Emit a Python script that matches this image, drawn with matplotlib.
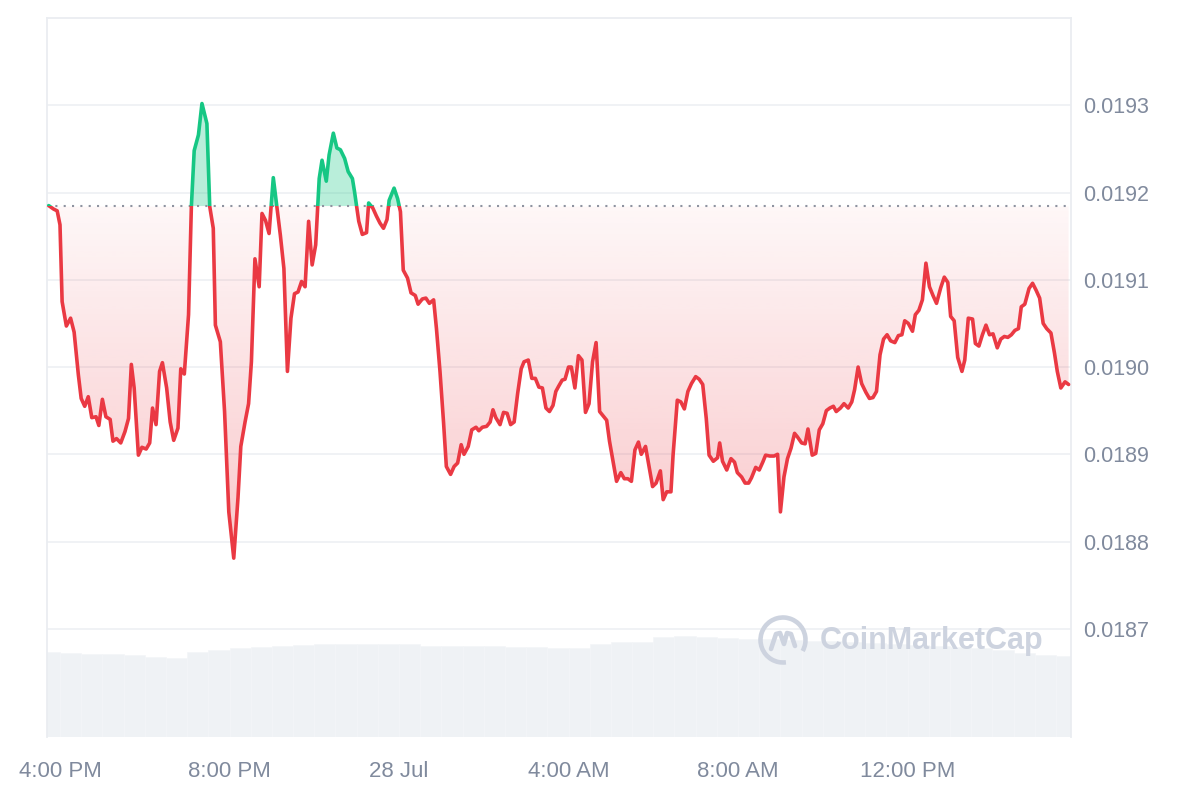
import numpy as np
import pandas as pd
import matplotlib
matplotlib.use("Agg")
import matplotlib.pyplot as plt
import matplotlib.dates as mdates
from matplotlib.patches import Polygon, Rectangle, Arc
from matplotlib.lines import Line2D
from matplotlib.ticker import FormatStrFormatter

plt.rcParams['font.family'] = ['Liberation Sans', 'DejaVu Sans']

# minutes after 27 Jul 4:00 PM
minutes = [
    -16, -9, -4, 0, 3, 9, 15, 20, 26, 30,
    35, 40, 45, 51, 55, 60, 65, 71, 75, 80,
    86, 92, 97, 101, 105, 111, 116, 122, 127, 131,
    136, 141, 145, 151, 156, 161, 167, 171, 176, 182,
    186, 190, 196, 201, 208, 212, 217, 220, 227, 233,
    239, 246, 252, 256, 262, 267, 271, 276, 282, 286,
    291, 296, 302, 307, 312, 317, 322, 327, 332, 337,
    342, 347, 352, 357, 362, 367, 371, 377, 381, 387,
    392, 397, 403, 408, 414, 417, 423, 428, 434, 437,
    443, 448, 453, 458, 463, 466, 473, 478, 482, 486,
    492, 497, 503, 507, 513, 518, 523, 529, 533, 538,
    543, 547, 553, 558, 563, 568, 572, 578, 583, 589,
    593, 598, 604, 609, 613, 617, 623, 628, 633, 638,
    643, 648, 653, 657, 663, 668, 673, 678, 683, 688,
    693, 698, 702, 706, 711, 715, 720, 724, 729, 734,
    739, 744, 749, 754, 759, 764, 769, 774, 778, 783,
    788, 794, 799, 804, 809, 814, 819, 823, 829, 834,
    839, 844, 850, 854, 859, 865, 868, 874, 879, 884,
    889, 894, 900, 905, 910, 915, 919, 925, 931, 934,
    938, 944, 950, 955, 959, 965, 970, 975, 979, 985,
    990, 995, 999, 1005, 1011, 1016, 1020, 1025, 1030, 1035,
    1040, 1044, 1050, 1055, 1059, 1065, 1070, 1075, 1080, 1085,
    1090, 1095, 1099, 1105, 1110, 1116, 1121, 1125, 1130, 1135,
    1141, 1146, 1151, 1156, 1161, 1166, 1171, 1176, 1182, 1187,
    1192, 1196, 1201, 1207, 1211, 1216, 1221, 1226, 1231, 1236,
    1241, 1247, 1252, 1257, 1261, 1266, 1271, 1277, 1281, 1286,
    1292, 1296, 1301, 1306, 1311, 1316, 1321, 1327, 1332, 1337,
    1342, 1347, 1352, 1357, 1361, 1366, 1372, 1377, 1382, 1387,
    1392, 1397, 1403, 1408, 1412, 1417, 1423, 1428,
]

prices = [
    0.019185, 0.019181, 0.019179, 0.019163, 0.019075, 0.019047, 0.019056, 0.019040, 0.018991, 0.018964,
    0.018955, 0.018966, 0.018942, 0.018943, 0.018933, 0.018963, 0.018943, 0.018940, 0.018915, 0.018918,
    0.018913, 0.018926, 0.018941, 0.019003, 0.018976, 0.018899, 0.018908, 0.018906, 0.018913, 0.018953,
    0.018934, 0.018995, 0.019005, 0.018976, 0.018937, 0.018916, 0.018930, 0.018998, 0.018992, 0.019060,
    0.019184, 0.019248, 0.019266, 0.019302, 0.019279, 0.019184, 0.019159, 0.019048, 0.019029, 0.018949,
    0.018834, 0.018781, 0.018850, 0.018909, 0.018937, 0.018958, 0.019006, 0.019124, 0.019092, 0.019176,
    0.019168, 0.019153, 0.019217, 0.019184, 0.019151, 0.019113, 0.018995, 0.019056, 0.019084, 0.019086,
    0.019098, 0.019092, 0.019167, 0.019117, 0.019140, 0.019216, 0.019237, 0.019213, 0.019243, 0.019268,
    0.019251, 0.019249, 0.019239, 0.019224, 0.019216, 0.019201, 0.019167, 0.019152, 0.019154, 0.019188,
    0.019182, 0.019173, 0.019165, 0.019159, 0.019169, 0.019191, 0.019205, 0.019193, 0.019178, 0.019111,
    0.019102, 0.019085, 0.019082, 0.019072, 0.019078, 0.019079, 0.019073, 0.019077, 0.019044, 0.018995,
    0.018937, 0.018886, 0.018877, 0.018886, 0.018890, 0.018911, 0.018900, 0.018909, 0.018928, 0.018931,
    0.018927, 0.018931, 0.018932, 0.018937, 0.018951, 0.018942, 0.018934, 0.018948, 0.018947, 0.018934,
    0.018937, 0.018970, 0.018998, 0.019006, 0.019008, 0.018987, 0.018987, 0.018977, 0.018976, 0.018953,
    0.018949, 0.018956, 0.018972, 0.018978, 0.018985, 0.018986, 0.019000, 0.019000, 0.018976, 0.019013,
    0.019008, 0.018948, 0.018958, 0.019006, 0.019028, 0.018949, 0.018944, 0.018939, 0.018915, 0.018892,
    0.018869, 0.018879, 0.018872, 0.018872, 0.018869, 0.018905, 0.018914, 0.018900, 0.018909, 0.018886,
    0.018863, 0.018867, 0.018881, 0.018848, 0.018857, 0.018857, 0.018899, 0.018962, 0.018960, 0.018952,
    0.018972, 0.018981, 0.018989, 0.018986, 0.018980, 0.018941, 0.018899, 0.018892, 0.018896, 0.018913,
    0.018892, 0.018882, 0.018895, 0.018891, 0.018879, 0.018874, 0.018867, 0.018867, 0.018873, 0.018885,
    0.018882, 0.018891, 0.018899, 0.018898, 0.018898, 0.018900, 0.018834, 0.018874, 0.018895, 0.018907,
    0.018924, 0.018920, 0.018913, 0.018912, 0.018929, 0.018899, 0.018901, 0.018928, 0.018935, 0.018950,
    0.018953, 0.018955, 0.018949, 0.018953, 0.018958, 0.018953, 0.018960, 0.018974, 0.019000, 0.018981,
    0.018971, 0.018964, 0.018965, 0.018972, 0.019014, 0.019032, 0.019037, 0.019030, 0.019028, 0.019036,
    0.019037, 0.019053, 0.019050, 0.019041, 0.019060, 0.019065, 0.019077, 0.019119, 0.019092, 0.019082,
    0.019073, 0.019091, 0.019103, 0.019097, 0.019058, 0.019053, 0.019011, 0.018995, 0.019008, 0.019056,
    0.019055, 0.019027, 0.019024, 0.019037, 0.019048, 0.019037, 0.019038, 0.019022, 0.019032, 0.019035,
    0.019034, 0.019037, 0.019042, 0.019044, 0.019069, 0.019072, 0.019090, 0.019096, 0.019088, 0.019079,
    0.019050, 0.019044, 0.019039, 0.019016, 0.018995, 0.018976, 0.018983, 0.018980,
]

# 30-minute volume bars (relative units)
vol_minutes = list(range(-15, 1440, 30))
volume = [
    85, 84, 83, 83, 82, 80, 79, 85, 87, 89,
    90, 91, 92, 93, 93, 93, 93, 93, 91, 91,
    91, 91, 90, 90, 89, 89, 93, 95, 95, 100,
    101, 100, 99, 98, 98, 97, 96, 96, 95, 94,
    93, 92, 91, 90, 89, 87, 84, 82, 81,
]

base_price = 0.019184
y_ticks = [0.0187, 0.0188, 0.0189, 0.0190, 0.0191, 0.0192, 0.0193]
tick_times = ['2024-07-27 16:00', '2024-07-27 20:00', '2024-07-28 00:00',
              '2024-07-28 04:00', '2024-07-28 08:00', '2024-07-28 12:00']
tick_labels = ['4:00 PM', '8:00 PM', '28 Jul', '4:00 AM', '8:00 AM', '12:00 PM']

RED = '#ea3943'
GREEN = '#16c784'
GRID = '#eff1f4'
TXT = '#808a9d'

start = pd.Timestamp('2024-07-27 16:00')
t = mdates.date2num((start + pd.to_timedelta(minutes, unit='m')).to_pydatetime())
tv = mdates.date2num((start + pd.to_timedelta(vol_minutes, unit='m')).to_pydatetime())
p = np.array(prices)
xmin = mdates.date2num((start + pd.Timedelta(minutes=-18.4)).to_pydatetime())
xmax = mdates.date2num((start + pd.Timedelta(minutes=1431.4)).to_pydatetime())
ymin, ymax = 0.018576, 0.0194

fig = plt.figure(figsize=(12, 8), dpi=100)
rect = [47 / 1200, 63 / 800, 1024 / 1200, 719 / 800]

# volume in the back
axv = fig.add_axes(rect)
axv.bar(tv, volume, width=30 / 1440, color='#eff2f5', edgecolor='#f3f5f8', linewidth=0.4)
axv.set_xlim(xmin, xmax)
axv.set_ylim(0, 720)
axv.axis('off')

ax = fig.add_axes(rect)
ax.patch.set_visible(False)

# gradient fills clipped to the area between price and baseline
verts = np.column_stack([np.r_[t, t[::-1]], np.r_[p, np.full(len(t), base_price)]])
clip = Polygon(verts, closed=True, transform=ax.transData, fc='none', ec='none')
ax.add_patch(clip)

red_img = np.zeros((256, 1, 4))
red_img[..., :3] = matplotlib.colors.to_rgb(RED)
red_img[:, 0, 3] = np.linspace(0.28, 0.04, 256)
im_r = ax.imshow(red_img, extent=[t[0], t[-1], p.min(), base_price], origin='lower',
                 aspect='auto', zorder=1, interpolation='bilinear')
im_r.set_clip_path(clip)

green_img = np.zeros((2, 1, 4))
green_img[..., :3] = matplotlib.colors.to_rgb(GREEN)
green_img[:, 0, 3] = 0.3
im_g = ax.imshow(green_img, extent=[t[0], t[-1], base_price, p.max()], origin='lower',
                 aspect='auto', zorder=1)
im_g.set_clip_path(clip)

ax.axhline(base_price, color='#8e93a0', lw=1.5, ls=(0, (1, 3)), zorder=2)

# price line, red below and green above the baseline
below = Rectangle((xmin, ymin), xmax - xmin, base_price - ymin, transform=ax.transData)
above = Rectangle((xmin, base_price), xmax - xmin, ymax - base_price, transform=ax.transData)
l_red, = ax.plot(t, p, color=RED, lw=2.6, zorder=3, solid_joinstyle='round', solid_capstyle='round')
l_red.set_clip_path(below)
l_green, = ax.plot(t, p, color=GREEN, lw=2.6, zorder=3, solid_joinstyle='round', solid_capstyle='round')
l_green.set_clip_path(above)

ax.set_xlim(xmin, xmax)
ax.set_ylim(ymin, ymax)

ax.set_yticks(y_ticks)
ax.yaxis.set_major_formatter(FormatStrFormatter('%.4f'))
ax.yaxis.tick_right()
ax.set_xticks(mdates.date2num(pd.to_datetime(tick_times).to_pydatetime()))
ax.set_xticklabels(tick_labels)
ax.tick_params(axis='y', length=0, pad=9, labelsize=15.5, labelcolor=TXT)
ax.tick_params(axis='x', length=0, pad=17, labelsize=16, labelcolor=TXT)
ax.grid(axis='y', color=GRID, lw=1.3, zorder=0)
ax.set_axisbelow(True)

for side in ['left', 'right', 'top']:
    ax.spines[side].set_color('#eaedf1')
    ax.spines[side].set_linewidth(1.3)
ax.spines['bottom'].set_visible(False)

# watermark
wm = '#cdd3df'
cx, cy = 783, 640
fig.patches.append(Arc((cx / 1200, 1 - cy / 800), 45 / 1200, 45 / 800, theta1=-40, theta2=275,
                       transform=fig.transFigure, color=wm, lw=3.3))
sq = np.array([(-12, -9), (-7, 6), (-3, 7), (1, -4), (4, 7), (8, 6), (12, -6)])
fig.lines.append(Line2D((cx + sq[:, 0]) / 1200, 1 - (cy - sq[:, 1]) / 800,
                        transform=fig.transFigure, color=wm, lw=3.3,
                        solid_joinstyle='round', solid_capstyle='round'))
fig.text(820 / 1200, 1 - 641 / 800, 'CoinMarketCap', fontsize=22, fontweight='bold',
         color=wm, va='center', ha='left')

fig.savefig('out.png', dpi=100)
